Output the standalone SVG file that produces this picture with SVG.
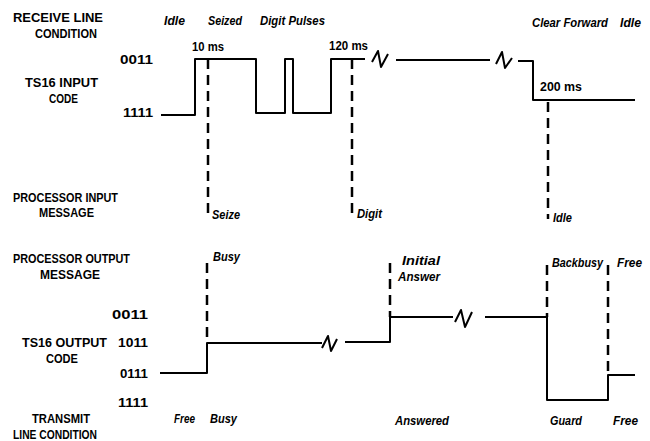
<svg xmlns="http://www.w3.org/2000/svg" width="650" height="441" viewBox="0 0 650 441">
<style>
text{font-family:"Liberation Sans Narrow","Liberation Sans",Arial,sans-serif;font-weight:bold;font-size:13px;fill:#000}
.it{font-style:italic}
.w{fill:none;stroke:#000;stroke-width:2;stroke-linejoin:round}
.d{fill:none;stroke:#000;stroke-width:2.5;stroke-dasharray:10 6}
</style>
<rect width="650" height="441" fill="#fff"/>
<g id="labels">
<text x="13" y="22" textLength="90" lengthAdjust="spacingAndGlyphs">RECEIVE LINE</text>
<text x="35" y="38" textLength="62" lengthAdjust="spacingAndGlyphs">CONDITION</text>
<text x="25" y="87" textLength="73" lengthAdjust="spacingAndGlyphs">TS16 INPUT</text>
<text x="49" y="103" textLength="29" lengthAdjust="spacingAndGlyphs">CODE</text>
<text x="120" y="64" textLength="33" lengthAdjust="spacingAndGlyphs">0011</text>
<text x="123" y="117" textLength="30" lengthAdjust="spacingAndGlyphs">1111</text>
<text x="13" y="202" textLength="105" lengthAdjust="spacingAndGlyphs">PROCESSOR INPUT</text>
<text x="39" y="217" textLength="55" lengthAdjust="spacingAndGlyphs">MESSAGE</text>
<text x="13" y="263" textLength="117" lengthAdjust="spacingAndGlyphs">PROCESSOR OUTPUT</text>
<text x="40" y="279" textLength="60" lengthAdjust="spacingAndGlyphs">MESSAGE</text>
<text x="112" y="319" textLength="36" lengthAdjust="spacingAndGlyphs">0011</text>
<text x="22" y="347" textLength="85" lengthAdjust="spacingAndGlyphs">TS16 OUTPUT</text>
<text x="118" y="347" textLength="30" lengthAdjust="spacingAndGlyphs">1011</text>
<text x="46" y="363" textLength="32" lengthAdjust="spacingAndGlyphs">CODE</text>
<text x="120" y="378" textLength="28" lengthAdjust="spacingAndGlyphs">0111</text>
<text x="118" y="407" textLength="30" lengthAdjust="spacingAndGlyphs">1111</text>
<text x="32" y="423" textLength="58" lengthAdjust="spacingAndGlyphs">TRANSMIT</text>
<text x="13" y="439" textLength="84" lengthAdjust="spacingAndGlyphs">LINE CONDITION</text>
</g>
<g id="input-labels">
<text class="it" x="164" y="25" textLength="21" lengthAdjust="spacingAndGlyphs">Idle</text>
<text class="it" x="208" y="25" textLength="34" lengthAdjust="spacingAndGlyphs">Seized</text>
<text class="it" x="260" y="25" textLength="65" lengthAdjust="spacingAndGlyphs">Digit Pulses</text>
<text class="it" x="532" y="27" textLength="76" lengthAdjust="spacingAndGlyphs">Clear Forward</text>
<text class="it" x="620" y="27" textLength="21" lengthAdjust="spacingAndGlyphs">Idle</text>
<text x="192" y="51" textLength="32" lengthAdjust="spacingAndGlyphs">10 ms</text>
<text x="329" y="50" textLength="39" lengthAdjust="spacingAndGlyphs">120 ms</text>
<text x="540" y="91" textLength="42" lengthAdjust="spacingAndGlyphs">200 ms</text>
<text class="it" x="212" y="219" textLength="28" lengthAdjust="spacingAndGlyphs">Seize</text>
<text class="it" x="357" y="218" textLength="25" lengthAdjust="spacingAndGlyphs">Digit</text>
<text class="it" x="553" y="222" textLength="19" lengthAdjust="spacingAndGlyphs">Idle</text>
</g>
<g id="output-labels">
<text class="it" x="213" y="261" textLength="27" lengthAdjust="spacingAndGlyphs">Busy</text>
<text class="it" x="402" y="265" textLength="38" lengthAdjust="spacingAndGlyphs">Initial</text>
<text class="it" x="398" y="281" textLength="42" lengthAdjust="spacingAndGlyphs">Answer</text>
<text class="it" x="552" y="267" textLength="51" lengthAdjust="spacingAndGlyphs">Backbusy</text>
<text class="it" x="617" y="267" textLength="25" lengthAdjust="spacingAndGlyphs">Free</text>
<text class="it" x="174" y="423" textLength="21" lengthAdjust="spacingAndGlyphs">Free</text>
<text class="it" x="210" y="423" textLength="27" lengthAdjust="spacingAndGlyphs">Busy</text>
<text class="it" x="395" y="425" textLength="54" lengthAdjust="spacingAndGlyphs">Answered</text>
<text class="it" x="550" y="425" textLength="32" lengthAdjust="spacingAndGlyphs">Guard</text>
<text class="it" x="613" y="425" textLength="25" lengthAdjust="spacingAndGlyphs">Free</text>
</g>
<g id="input-waveform">
<path class="w" d="M161,115 H195 V59 H256 V113 H285 V59 H293 V113 H331 V59 H365"/>
<path class="w" d="M372,62 L378,51 L381,67 L388,54"/>
<path class="w" d="M396,60 H490"/>
<path class="w" d="M496,64 L502,52 L505,68 L512,58"/>
<path class="w" d="M518,61 H533 V100 H635"/>
</g>
<g id="output-waveform">
<path class="w" d="M160,373 H207 V343 H322"/>
<path class="w" d="M322,348 L328,336 L331,351 L337,339"/>
<path class="w" d="M345,342 H390 V317 H453"/>
<path class="w" d="M455,322 L461,310 L465,327 L472,312"/>
<path class="w" d="M485,317 H547 V400 H608 V375 H635"/>
</g>
<g id="connectors">
<path class="d" d="M208,59 V218"/>
<path class="d" d="M352,59 V217"/>
<path class="d" d="M548,102 V219"/>
<path class="d" d="M207,263 V343"/>
<path class="d" d="M390,263 V317"/>
<path class="d" d="M547,265 V317"/>
<path class="d" d="M608,265 V375"/>
</g>
</svg>
